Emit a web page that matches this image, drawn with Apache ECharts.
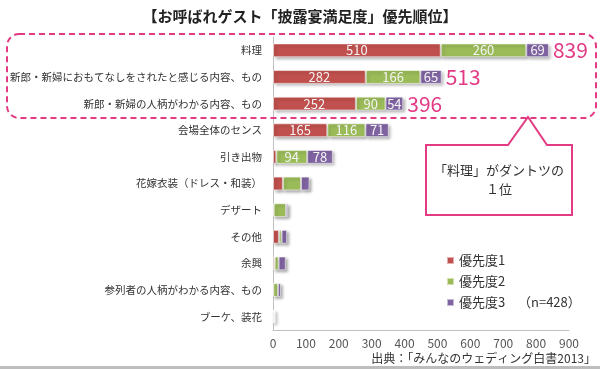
<!DOCTYPE html>
<html><head><meta charset="utf-8">
<script src="https://cdn.jsdelivr.net/npm/echarts@6/dist/echarts.min.js"></script>
<style>html,body{margin:0;padding:0;background:#fff}#c{width:600px;height:369px}</style>
</head><body><div id="c"></div>
<script>
const categories = ['料理','新郎・新婦におもてなしをされたと感じる内容、もの','新郎・新婦の人柄がわかる内容、もの','会場全体のセンス','引き出物','花嫁衣装（ドレス・和装）','デザート','その他','余興','参列者の人柄がわかる内容、もの','ブーケ、装花'];
const priority1 = [510,282,252,165,10,30,2,18,5,1,1];
const priority2 = [260,166,90,116,94,55,38,8,12,14,3];
const priority3 = [69,65,54,71,78,26,6,17,22,9,3];
const totals = [839,513,396];
const seriesNames = ['優先度1','優先度2','優先度3'];
const xTicks = {min:0, max:900, interval:100};

const font = '"Noto Sans CJK JP","Noto Sans",sans-serif';
const colors = ['#c0504d','#9bbb59','#8064a2'];
const pink = '#e23a83';

function mk(name, data, color){
  return {
    name, type:'bar', stack:'s', data, barWidth:'52%',
    itemStyle:{color, borderColor:'rgba(255,255,255,0.55)', borderWidth:1,
      shadowBlur:3, shadowColor:'rgba(0,0,0,0.35)', shadowOffsetX:2, shadowOffsetY:2},
    label:{show:true, position:'inside', color:'#f4f4f4', fontSize:13, fontFamily:font,
      formatter:p => (p.dataIndex < 5 && p.value >= 20) ? String(p.value) : ''}
  };
}

const chart = echarts.init(document.getElementById('c'));
chart.setOption({
  animation:false,
  backgroundColor:'#fff',
  title:{text:'【お呼ばれゲスト「披露宴満足度」優先順位】', left:'center', top:4,
    textStyle:{fontSize:15, fontWeight:'bold', color:'#222', fontFamily:font}},
  grid:{left:273, right:31, top:37, bottom:39, containLabel:false, outerBoundsMode:'none'},
  xAxis:{type:'value', min:xTicks.min, max:xTicks.max, interval:xTicks.interval,
    axisLine:{show:true, lineStyle:{color:'#bfbfbf'}}, axisTick:{show:false},
    splitLine:{show:false},
    axisLabel:{color:'#555', fontSize:12, margin:7, fontFamily:font}},
  yAxis:{type:'category', data:categories, inverse:true,
    axisLine:{show:true, lineStyle:{color:'#bfbfbf'}}, axisTick:{show:false},
    axisLabel:{color:'#333', fontSize:10.5, margin:11, fontFamily:font}},
  legend:{data:seriesNames, orient:'vertical', left:441, top:249, itemWidth:7, itemHeight:7,
    itemGap:8, icon:'rect', textStyle:{fontSize:13, color:'#333', fontFamily:font}},
  series:[
    mk(seriesNames[0], priority1, colors[0]),
    mk(seriesNames[1], priority2, colors[1]),
    mk(seriesNames[2], priority3, colors[2]),
    {name:'total', type:'bar', stack:'s', barWidth:'52%',
     data: categories.map((c,i)=> i < totals.length ? 0 : '-'),
     itemStyle:{color:'transparent'},
     label:{show:true, position:'right', distance:4, color:pink, fontSize:21, fontFamily:font,
       formatter:p => String(totals[p.dataIndex])}}
  ],
  graphic:[
    {type:'rect', shape:{x:7, y:34, width:589, height:84, r:12}, z:1,
     style:{fill:'none', stroke:pink, lineWidth:2, lineDash:[6,4]}},
    {type:'polygon', z:10, shape:{points:[[426,145],[508,145],[528,117],[547,145],[572,145],[572,215],[426,215]]},
     style:{fill:'#fff', stroke:pink, lineWidth:2}},
    {type:'text', z:11, style:{x:499, y:180, text:'「料理」がダントツの\n１位', align:'center', verticalAlign:'middle',
      fontSize:13, lineHeight:19, fill:'#333', fontFamily:font}},
    {type:'text', style:{x:518, y:302, text:'（n=428）', verticalAlign:'middle', fontSize:13, fill:'#333', fontFamily:font}},
    {type:'text', style:{x:596, y:358, text:'出典：「みんなのウェディング白書2013」', align:'right', verticalAlign:'middle', fontSize:12, fill:'#333', fontFamily:font}},
    {type:'rect', shape:{x:0, y:366, width:600, height:3}, style:{fill:'#bdbdbd'}}
  ]
});
</script></body></html>
